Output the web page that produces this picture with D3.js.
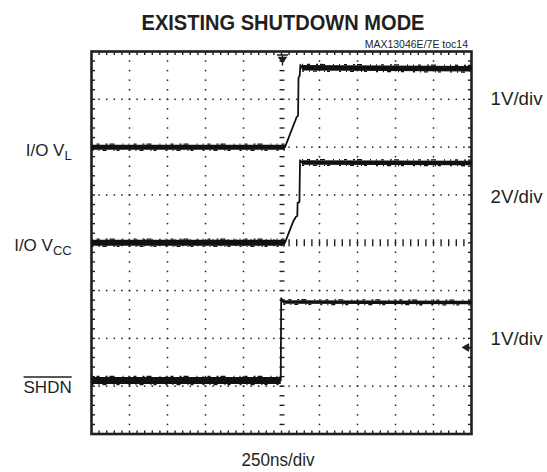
<!DOCTYPE html>
<html>
<head>
<meta charset="utf-8">
<script src="https://cdn.jsdelivr.net/npm/d3@7"></script>
<style>
  body { margin: 0; background: #fff; }
  svg { display: block; }
  text { font-family: "Liberation Sans", Arial, Helvetica, sans-serif; fill: #231f20; }
</style>
</head>
<body>
<svg id="chart" width="547" height="472"></svg>
<script>
// time in ns (250ns/div, 10 divisions), levels in volts
const vlTime    = [0, 1273, 1350, 1359, 1362, 1370, 1374, 1385, 2500];
const vlVolts   = [0, 0, 0.63, 0.66, 1.45, 1.5, 1.72, 1.66, 1.64];
const vccTime   = [0, 1273, 1306, 1328, 1345, 1354, 1356, 1368, 1372, 1385, 2500];
const vccVolts  = [0, 0, 0.55, 0.9, 1.09, 1.12, 1.67, 1.7, 3.45, 3.36, 3.34];
const shdnTime  = [0, 1245, 1248, 1262, 2500];
const shdnVolts = [0, 0, 1.72, 1.64, 1.63];

const scaleLabels = ['1V/div', '2V/div', '1V/div'];
const timeLabel = '250ns/div';
const title = 'EXISTING SHUTDOWN MODE';
const figId = 'MAX13046E/7E toc14';

const svg = d3.select('#chart');

// screen divisions
const xDiv = d3.scaleLinear().domain([0, 10]).range([91.5, 471.5]);
const yDiv = d3.scaleLinear().domain([4, -4]).range([51.5, 434]);
const x = d3.scaleLinear().domain([0, 2500]).range(xDiv.range());

const minorX = d3.range(0, 50.5).map(i => i / 5);
const minorY = d3.range(-20, 20.5).map(i => i / 5);

// channels: volts per div, ground offset (div), band widths low/high
const channels = [
    { time: vlTime, volts: vlVolts, vdiv: 1, offset: 2, band: [5, 5.5] },
    { time: vccTime, volts: vccVolts, vdiv: 2, offset: 0, band: [6, 4.5] },
    { time: shdnTime, volts: shdnVolts, vdiv: 1, offset: -2.88, band: [7, 3.5] }
];

// ---- grid ----
let grid = svg.append('g').attr('fill', '#231f20');

// dotted major lines
d3.range(1, 10).filter(i => i != 5).forEach(i => {
    grid.selectAll(null)
        .data(minorY.slice(1, -1))
        .enter().append('rect')
            .attr('x', xDiv(i) - 0.75)
            .attr('y', d => yDiv(d) - 0.75)
            .attr('width', 1.5)
            .attr('height', 1.5);
});
d3.range(-3, 4).filter(j => j != 0).forEach(j => {
    grid.selectAll(null)
        .data(minorX.slice(1, -1))
        .enter().append('rect')
            .attr('x', d => xDiv(d) - 0.75)
            .attr('y', yDiv(j) - 0.75)
            .attr('width', 1.5)
            .attr('height', 1.5);
});

// center graticule ticks
grid.selectAll(null)
    .data(minorX.slice(1, -1))
    .enter().append('rect')
        .attr('x', d => xDiv(d) - 0.7)
        .attr('y', yDiv(0) - 3.5)
        .attr('width', 1.4)
        .attr('height', 7);
grid.selectAll(null)
    .data(minorY.slice(1, -1))
    .enter().append('rect')
        .attr('x', xDiv(5) - 2)
        .attr('y', d => yDiv(d) - 0.7)
        .attr('width', 5)
        .attr('height', 1.4);

// edge ticks
minorX.slice(1, -1).forEach(d => {
    grid.append('rect').attr('x', xDiv(d) - 0.7).attr('y', yDiv(4)).attr('width', 1.4).attr('height', 3.5);
    grid.append('rect').attr('x', xDiv(d) - 0.7).attr('y', yDiv(-4) - 3.5).attr('width', 1.4).attr('height', 3.5);
});
minorY.slice(1, -1).forEach(d => {
    grid.append('rect').attr('x', xDiv(0)).attr('y', yDiv(d) - 0.7).attr('width', 3.5).attr('height', 1.4);
    grid.append('rect').attr('x', xDiv(10) - 3.5).attr('y', yDiv(d) - 0.7).attr('width', 3.5).attr('height', 1.4);
});

// frame
svg.append('rect')
    .attr('x', xDiv(0))
    .attr('y', yDiv(4))
    .attr('width', xDiv(10) - xDiv(0))
    .attr('height', yDiv(-4) - yDiv(4))
    .attr('fill', 'none')
    .attr('stroke', '#231f20')
    .attr('stroke-width', 2.6);

// trigger marker (top) and offset marker (right)
let mx = xDiv(5) + 1, my = yDiv(4);
svg.append('path')
    .attr('d', `M${mx - 5.5},${my + 3.5}H${mx + 5.5}M${mx},${my + 3.5}V${my + 14}M${mx - 3.5},${my + 6}H${mx + 3.5}L${mx},${my + 11}Z`)
    .attr('stroke', '#231f20')
    .attr('stroke-width', 1.4)
    .attr('fill', '#231f20');
let rx = xDiv(10) - 4.5, ry = yDiv(-2.19);
svg.append('path')
    .attr('d', `M${rx - 4},${ry}L${rx + 1},${ry - 3}V${ry + 3}Z M${rx},${ry}H${rx + 4} M${rx + 1.5},${ry - 4}V${ry + 4}`)
    .attr('stroke', '#231f20')
    .attr('stroke-width', 1.4)
    .attr('fill', '#231f20');

// ---- traces ----
let traces = svg.append('g');
channels.forEach(ch => {
    let y = v => yDiv(ch.offset + v / ch.vdiv);
    let pts = ch.time.map((t, i) => [x(t), y(ch.volts[i])]);

    traces.append('path')
        .attr('d', d3.line()(pts))
        .attr('fill', 'none')
        .attr('stroke', '#111')
        .attr('stroke-width', 1.8)
        .attr('stroke-linejoin', 'round');

    // flat (settled) parts carry the thick noise band
    for (let i = 0; i < pts.length - 1; i++) {
        let dt = ch.time[i + 1] - ch.time[i];
        let dv = Math.abs(ch.volts[i + 1] - ch.volts[i]) / ch.vdiv;
        if (dt < 60 || dv > 0.1) continue;
        let w = ch.volts[i] == 0 ? ch.band[0] : ch.band[1];
        let seg = [pts[i], pts[i + 1]];
        traces.append('path')
            .attr('d', d3.line()(seg))
            .attr('stroke', '#111')
            .attr('stroke-width', w)
            .attr('fill', 'none');
        [-1, 1].forEach((s, k) => {
            traces.append('path')
                .attr('d', d3.line()(seg.map(p => [p[0], p[1] + s * (w / 2 + 0.6)])))
                .attr('stroke', '#111')
                .attr('stroke-width', 1.3)
                .attr('fill', 'none')
                .attr('stroke-dasharray', k ? '2 5 1 3 4 7 1 2 3 9' : '1 4 3 6 2 2 5 8 1 5');
        });
    }
});

// ---- texts ----
svg.append('text')
    .attr('x', 283).attr('y', 30)
    .attr('text-anchor', 'middle')
    .style('font-size', '22px').style('font-weight', 'bold')
    .attr('textLength', 283).attr('lengthAdjust', 'spacingAndGlyphs')
    .text(title);

svg.append('text')
    .attr('x', 468).attr('y', 48)
    .attr('text-anchor', 'end')
    .style('font-size', '10.5px')
    .text(figId);

svg.selectAll('.scaleLabel')
    .data(scaleLabels)
    .enter().append('text')
        .attr('class', 'scaleLabel')
        .attr('x', 490.5)
        .attr('y', (d, i) => [105.3, 202.7, 345][i])
        .style('font-size', '18px')
        .attr('textLength', 52).attr('lengthAdjust', 'spacingAndGlyphs')
        .text(d => d);

svg.append('text')
    .attr('x', 278).attr('y', 466)
    .attr('text-anchor', 'middle')
    .style('font-size', '18px')
    .attr('textLength', 73).attr('lengthAdjust', 'spacingAndGlyphs')
    .text(timeLabel);

// channel names with subscripts
function chanLabel (y, main, sub) {
    let t = svg.append('text')
        .attr('x', 71.7).attr('y', y)
        .attr('text-anchor', 'end')
        .style('font-size', '17px');
    t.append('tspan').text(main);
    if (sub) t.append('tspan').attr('dy', 4).style('font-size', '13px').text(sub);
    return t;
}
chanLabel(155.5, 'I/O V', 'L');
chanLabel(251, 'I/O V', 'CC');
let sh = chanLabel(393.3, 'SHDN');
let w = sh.node().getComputedTextLength();
svg.append('line')
    .attr('x1', 71.7 - w).attr('x2', 71.7)
    .attr('y1', 377).attr('y2', 377)
    .attr('stroke', '#231f20').attr('stroke-width', 1.3);
</script>
</body>
</html>
